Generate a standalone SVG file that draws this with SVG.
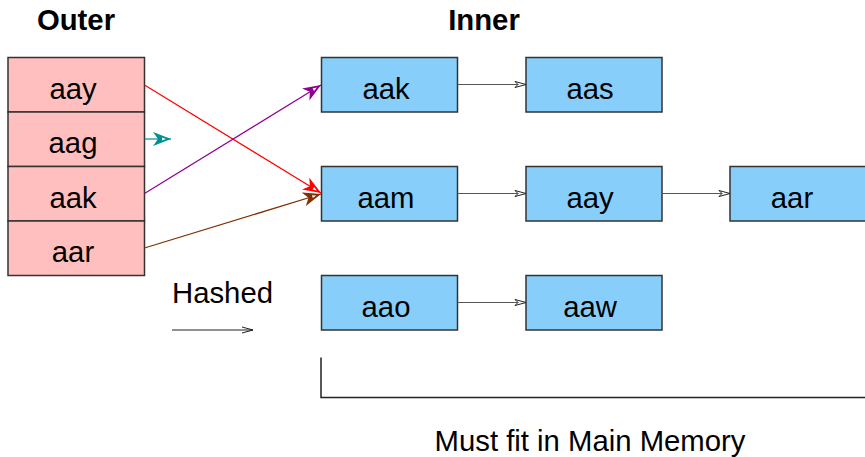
<svg xmlns="http://www.w3.org/2000/svg" width="865" height="457" viewBox="0 0 865 457">
<style>
text{font-family:"Liberation Sans",Arial,sans-serif;font-size:29.3px;fill:#000}
.b{font-weight:bold}
.o{fill:#ffbfbf;stroke:#333;stroke-width:1.5}
.i{fill:#87cefa;stroke:#333;stroke-width:1.5}
.c{fill:none;stroke:#555;stroke-width:1.2}
</style>
<defs>
<marker id="h" markerUnits="userSpaceOnUse" markerWidth="14" markerHeight="10" refX="12" refY="5" orient="auto" viewBox="0 0 14 10">
<path d="M1,2 L12,5 L1,8 L4,5 Z" fill="#fff" stroke="#222" stroke-width="1"/>
</marker>
<marker id="mr" markerUnits="userSpaceOnUse" markerWidth="20" markerHeight="16" refX="18" refY="8" orient="auto" viewBox="0 0 20 16">
<path d="M0,1 L18,8 L0,15 L5,8 Z" fill="#ff0000"/><path d="M9,6.5 L13,8 L9,9.5 Z" fill="#fff"/>
</marker>
<marker id="mp" markerUnits="userSpaceOnUse" markerWidth="20" markerHeight="16" refX="18" refY="8" orient="auto" viewBox="0 0 20 16">
<path d="M0,1 L18,8 L0,15 L5,8 Z" fill="#900090"/><path d="M9,6.5 L13,8 L9,9.5 Z" fill="#fff"/>
</marker>
<marker id="mb" markerUnits="userSpaceOnUse" markerWidth="20" markerHeight="16" refX="18" refY="8" orient="auto" viewBox="0 0 20 16">
<path d="M0,1 L18,8 L0,15 L5,8 Z" fill="#803000"/><path d="M9,6.5 L13,8 L9,9.5 Z" fill="#fff"/>
</marker>
<marker id="mt" markerUnits="userSpaceOnUse" markerWidth="20" markerHeight="16" refX="18" refY="8" orient="auto" viewBox="0 0 20 16">
<path d="M0,1 L18,8 L0,15 L5,8 Z" fill="#009090"/><path d="M9,6.5 L13,8 L9,9.5 Z" fill="#fff"/>
</marker>
<marker id="hs" markerUnits="userSpaceOnUse" markerWidth="14" markerHeight="10" refX="12" refY="5" orient="auto" viewBox="0 0 14 10">
<path d="M1,2 L12,5 L1,8" fill="none" stroke="#222" stroke-width="1"/>
</marker>
</defs>
<text class="b" x="76" y="30" text-anchor="middle">Outer</text>
<text class="b" x="484" y="30" text-anchor="middle">Inner</text>
<g id="outer">
<g id="o-aay"><rect class="o" x="8" y="57.5" width="136.5" height="54.5"/><text x="73" y="98.5" text-anchor="middle">aay</text></g>
<g id="o-aag"><rect class="o" x="8" y="112" width="136.5" height="54.5"/><text x="73" y="153" text-anchor="middle">aag</text></g>
<g id="o-aak"><rect class="o" x="8" y="166.5" width="136.5" height="54.5"/><text x="73" y="207.5" text-anchor="middle">aak</text></g>
<g id="o-aar"><rect class="o" x="8" y="221" width="136.5" height="54.5"/><text x="73" y="262" text-anchor="middle">aar</text></g>
</g>
<g id="i-aak"><rect class="i" x="321.5" y="57.5" width="136" height="54.5"/><text x="386" y="98.5" text-anchor="middle">aak</text></g>
<g id="i-aas"><rect class="i" x="526" y="57.5" width="136" height="54.5"/><text x="590" y="98.5" text-anchor="middle">aas</text></g>
<g id="i-aam"><rect class="i" x="321.5" y="166.5" width="136" height="54.5"/><text x="386" y="207.5" text-anchor="middle">aam</text></g>
<g id="i-aay"><rect class="i" x="526" y="166.5" width="136" height="54.5"/><text x="590" y="207.5" text-anchor="middle">aay</text></g>
<g id="i-aar"><rect class="i" x="730" y="166.5" width="136" height="54.5"/><text x="792" y="207.5" text-anchor="middle">aar</text></g>
<g id="i-aao"><rect class="i" x="321.5" y="275.5" width="136" height="54.5"/><text x="386" y="316.5" text-anchor="middle">aao</text></g>
<g id="i-aaw"><rect class="i" x="526" y="275.5" width="136" height="54.5"/><text x="590" y="316.5" text-anchor="middle">aaw</text></g>
<g id="connectors">
<line class="c" x1="457.5" y1="84.5" x2="526" y2="84.5" marker-end="url(#h)"/>
<line class="c" x1="457.5" y1="193.5" x2="526" y2="193.5" marker-end="url(#h)"/>
<line class="c" x1="662" y1="193.5" x2="730" y2="193.5" marker-end="url(#h)"/>
<line class="c" x1="457.5" y1="302.5" x2="526" y2="302.5" marker-end="url(#h)"/>
<line x1="144.5" y1="85" x2="321" y2="193" stroke="#ff0000" stroke-width="1.2" marker-end="url(#mr)"/>
<line x1="144.5" y1="139" x2="171" y2="139" stroke="#009090" stroke-width="1.2" marker-end="url(#mt)"/>
<line x1="144.5" y1="193.5" x2="321" y2="85" stroke="#900090" stroke-width="1.2" marker-end="url(#mp)"/>
<line x1="144.5" y1="248" x2="321" y2="194" stroke="#803000" stroke-width="1.2" marker-end="url(#mb)"/>
</g>
<g id="legend">
<text x="172" y="303">Hashed</text>
<line x1="172" y1="330" x2="253" y2="330" stroke="#222" stroke-width="1" marker-end="url(#hs)"/>
</g>
<g id="bracket">
<polyline points="321,357.5 321,397.5 865,397.5" fill="none" stroke="#222" stroke-width="1.5"/>
<text x="590" y="451" text-anchor="middle">Must fit in Main Memory</text>
</g>
</svg>
